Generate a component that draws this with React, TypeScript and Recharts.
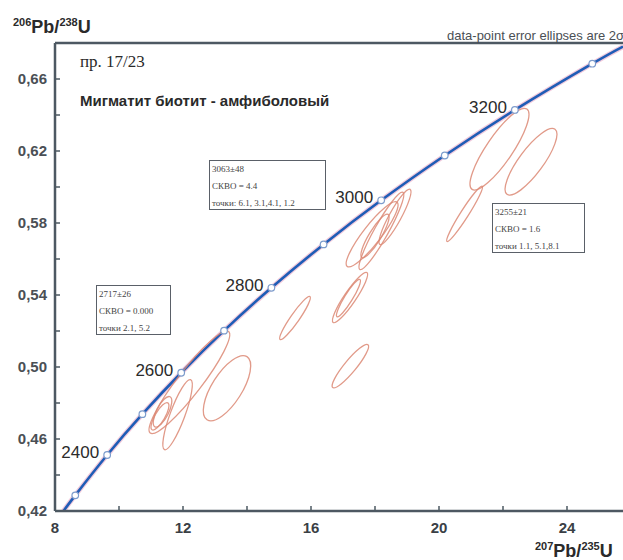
import { ComposedChart, Line, Scatter, XAxis, YAxis, ReferenceLine } from "recharts";

// concordia points (207Pb/235U, 206Pb/238U) every 100 Ma
const concordiaAges = [2300, 2400, 2500, 2600, 2700, 2800, 2900, 3000, 3100, 3200, 3300];
const concordiaX = [8.633, 9.63, 10.73, 11.944, 13.283, 14.762, 16.393, 18.193, 20.18, 22.371, 24.79];
const concordiaY = [0.4287, 0.4511, 0.4738, 0.4968, 0.5202, 0.544, 0.5681, 0.5926, 0.6175, 0.6428, 0.6685];
const labeledAges = [2400, 2600, 2800, 3000, 3200];

// where the curve leaves the frame
const curveStart = { x: 8.265, y: 0.42 };
const curveEnd = { x: 25.75, y: 0.678 };

// error ellipses: centre, half extents (2 sigma) and correlation
const ellX = [12.2, 13.375, 11.36, 11.83, 11.28, 15.5, 17.23, 18.2, 17.91, 18.0, 17.22, 17.17, 18.625, 21.89, 22.875, 20.8];
const ellY = [0.4915, 0.4882, 0.4751, 0.4735, 0.4726, 0.5272, 0.5005, 0.5756, 0.5737, 0.5728, 0.5386, 0.5383, 0.5834, 0.621, 0.614, 0.5851];
const ellHx = [1.26, 0.74, 0.29, 0.46, 0.28, 0.48, 0.57, 0.7, 0.81, 0.44, 0.55, 0.375, 0.5, 0.92, 0.81, 0.56];
const ellHy = [0.0285, 0.0181, 0.0085, 0.0195, 0.0076, 0.012, 0.0121, 0.0215, 0.0181, 0.0121, 0.014, 0.0104, 0.0154, 0.0227, 0.0185, 0.0154];
const ellRho = [0.928, 0.686, 0.7, 0.848, 0.78, 0.94, 0.91, 0.935, 0.9, 0.87, 0.917, 0.92, 0.906, 0.85, 0.824, 0.965];

const xTicks = [8, 10, 12, 14, 16, 18, 20, 22, 24];
const xLabeled = [8, 12, 16, 20, 24];
const yTicks = [0.42, 0.44, 0.46, 0.48, 0.5, 0.52, 0.54, 0.56, 0.58, 0.6, 0.62, 0.64, 0.66];
const yLabeled = [0.42, 0.46, 0.5, 0.54, 0.58, 0.62, 0.66];

const X_DOMAIN = [8, 25.75];
const Y_DOMAIN = [0.42, 0.68];

const W = 623;
const H = 560;
const MARGIN = { top: 43, right: 0, bottom: 19, left: 0 };
const Y_AXIS_W = 55;
const X_AXIS_H = 30;
const KX = (W - MARGIN.left - MARGIN.right - Y_AXIS_W) / (X_DOMAIN[1] - X_DOMAIN[0]);
const KY = (H - MARGIN.top - MARGIN.bottom - X_AXIS_H) / (Y_DOMAIN[1] - Y_DOMAIN[0]);

const AXIS = "#4d5862";
const BLUE = "#1f5db6";
const RED = "#dc8874";
const SANS = "'Liberation Sans', Arial, sans-serif";
const SERIF = "'Liberation Serif', 'Times New Roman', serif";

const curveData = [
  curveStart,
  ...concordiaX.map((x, i) => ({ x, y: concordiaY[i] })),
  curveEnd,
];
const markerData = concordiaX.map((x, i) => ({ x, y: concordiaY[i], age: concordiaAges[i] }));
const ellipseData = ellX.map((x, i) => ({
  x,
  y: ellY[i],
  hx: ellHx[i],
  hy: ellHy[i],
  rho: ellRho[i],
}));

const near = (arr: number[], v: number) => arr.some((a) => Math.abs(a - v) < 1e-6);

const EllipseShape = (props: any) => {
  const { cx, cy, payload } = props;
  const hx = payload.hx * KX;
  const hy = payload.hy * KY;
  const a = hx * hx;
  const d = hy * hy;
  const b = -payload.rho * hx * hy; // y grows downwards on screen
  const mean = (a + d) / 2;
  const diff = Math.sqrt(((a - d) / 2) ** 2 + b * b);
  const rx = Math.sqrt(mean + diff);
  const ry = Math.sqrt(Math.max(mean - diff, 0.5));
  const ang = (0.5 * Math.atan2(2 * b, a - d) * 180) / Math.PI;
  return (
    <ellipse
      cx={cx}
      cy={cy}
      rx={rx}
      ry={ry}
      transform={`rotate(${ang} ${cx} ${cy})`}
      fill="none"
      stroke={RED}
      strokeWidth={1.3}
      strokeOpacity={0.85}
    />
  );
};

const MarkerShape = (props: any) => {
  const { cx, cy, payload } = props;
  return (
    <g>
      <circle cx={cx} cy={cy} r={3.3} fill="#fff" stroke="#7d9ccc" strokeWidth={1.2} />
      {near(labeledAges, payload.age) && (
        <text
          x={cx - 8}
          y={cy + 3}
          textAnchor="end"
          fontFamily={SANS}
          fontSize={17}
          fill="#2b2b2b"
        >
          {payload.age}
        </text>
      )}
    </g>
  );
};

const YTick = ({ x, y, payload }: any) => (
  <g>
    <line x1={x} x2={x + 5} y1={y} y2={y} stroke={AXIS} strokeWidth={1.5} />
    {near(yLabeled, payload.value) && (
      <text
        x={x - 8}
        y={y + 5}
        textAnchor="end"
        fontFamily={SANS}
        fontWeight="bold"
        fontSize={15}
        fill="#4a4f55"
      >
        {payload.value.toFixed(2).replace(".", ",")}
      </text>
    )}
  </g>
);

const XTick = ({ x, y, payload }: any) => (
  <g>
    <line x1={x} x2={x} y1={y} y2={y - 5} stroke={AXIS} strokeWidth={1.5} />
    {near(xLabeled, payload.value) && (
      <text
        x={x}
        y={y + 22}
        textAnchor="middle"
        fontFamily={SANS}
        fontWeight="bold"
        fontSize={15}
        fill="#3a3f45"
      >
        {payload.value}
      </text>
    )}
  </g>
);

const InfoBox = ({ left, top, width, lines }: { left: number; top: number; width: number; lines: string[] }) => (
  <div
    style={{
      position: "absolute",
      left,
      top,
      width,
      height: 50,
      border: `1.5px solid #5a6068`,
      background: "#fff",
      fontFamily: SERIF,
      fontSize: 9,
      color: "#444",
      lineHeight: "17px",
      paddingLeft: 2,
      boxSizing: "border-box",
      whiteSpace: "nowrap",
      overflow: "hidden",
    }}
  >
    {lines.map((l) => (
      <div key={l}>{l}</div>
    ))}
  </div>
);

export default function App() {
  return (
    <div style={{ position: "absolute", left: 0, top: 0, width: W, height: H, background: "#fff", overflow: "hidden" }}>
      <ComposedChart width={W} height={H} margin={MARGIN}>
        <XAxis
          dataKey="x"
          type="number"
          domain={X_DOMAIN}
          ticks={xTicks}
          allowDataOverflow
          height={X_AXIS_H}
          tickSize={0}
          tickMargin={0}
          tickLine={false}
          axisLine={{ stroke: AXIS, strokeWidth: 2.5 }}
          tick={<XTick />}
        />
        <YAxis
          dataKey="y"
          type="number"
          domain={Y_DOMAIN}
          ticks={yTicks}
          allowDataOverflow
          width={Y_AXIS_W}
          tickSize={0}
          tickMargin={0}
          tickLine={false}
          axisLine={{ stroke: AXIS, strokeWidth: 2.5 }}
          tick={<YTick />}
        />
        <ReferenceLine y={0.68} stroke={AXIS} strokeWidth={2.5} />
        <Scatter data={ellipseData} dataKey="y" shape={<EllipseShape />} isAnimationActive={false} />
        <Line
          data={curveData}
          dataKey="y"
          type="natural"
          dot={false}
          stroke="#e8a6c4"
          strokeWidth={5}
          strokeOpacity={0.6}
          isAnimationActive={false}
        />
        <Line
          data={curveData}
          dataKey="y"
          type="natural"
          dot={false}
          stroke={BLUE}
          strokeWidth={2.6}
          isAnimationActive={false}
        />
        <Scatter data={markerData} dataKey="y" shape={<MarkerShape />} isAnimationActive={false} />
      </ComposedChart>

      <svg width={W} height={H} style={{ position: "absolute", left: 0, top: 0, pointerEvents: "none" }}>
        <text x={13} y={33} fontFamily={SANS} fontWeight="bold" fill="#2a2a2a">
          <tspan fontSize={11} dy={-7}>206</tspan>
          <tspan fontSize={18} dy={7}>Pb/</tspan>
          <tspan fontSize={11} dy={-7}>238</tspan>
          <tspan fontSize={18} dy={7}>U</tspan>
        </text>
        <text x={535} y={557} fontFamily={SANS} fontWeight="bold" fill="#2a2a2a">
          <tspan fontSize={11} dy={-7}>207</tspan>
          <tspan fontSize={18} dy={7}>Pb/</tspan>
          <tspan fontSize={11} dy={-7}>235</tspan>
          <tspan fontSize={18} dy={7}>U</tspan>
        </text>
        <text x={447} y={40} fontFamily={SANS} fontSize={13} fill="#4a4f55">
          data-point error ellipses are 2σ
        </text>
        <text x={80} y={67} fontFamily={SERIF} fontSize={17} fill="#2a2a2a">
          пр. 17/23
        </text>
        <text x={80} y={106} fontFamily={SANS} fontWeight="bold" fontSize={15} fill="#2a2a2a">
          Мигматит биотит - амфиболовый
        </text>
      </svg>

      <InfoBox left={96} top={285} width={75} lines={["2717±26", "СКВО = 0.000", "точки 2.1, 5.2"]} />
      <InfoBox left={209} top={160} width={117} lines={["3063±48", "СКВО = 4.4", "точки: 6.1, 3.1,4.1, 1.2"]} />
      <InfoBox left={492} top={203} width={93} lines={["3255±21", "СКВО = 1.6", "точки 1.1, 5.1,8.1"]} />
    </div>
  );
}
